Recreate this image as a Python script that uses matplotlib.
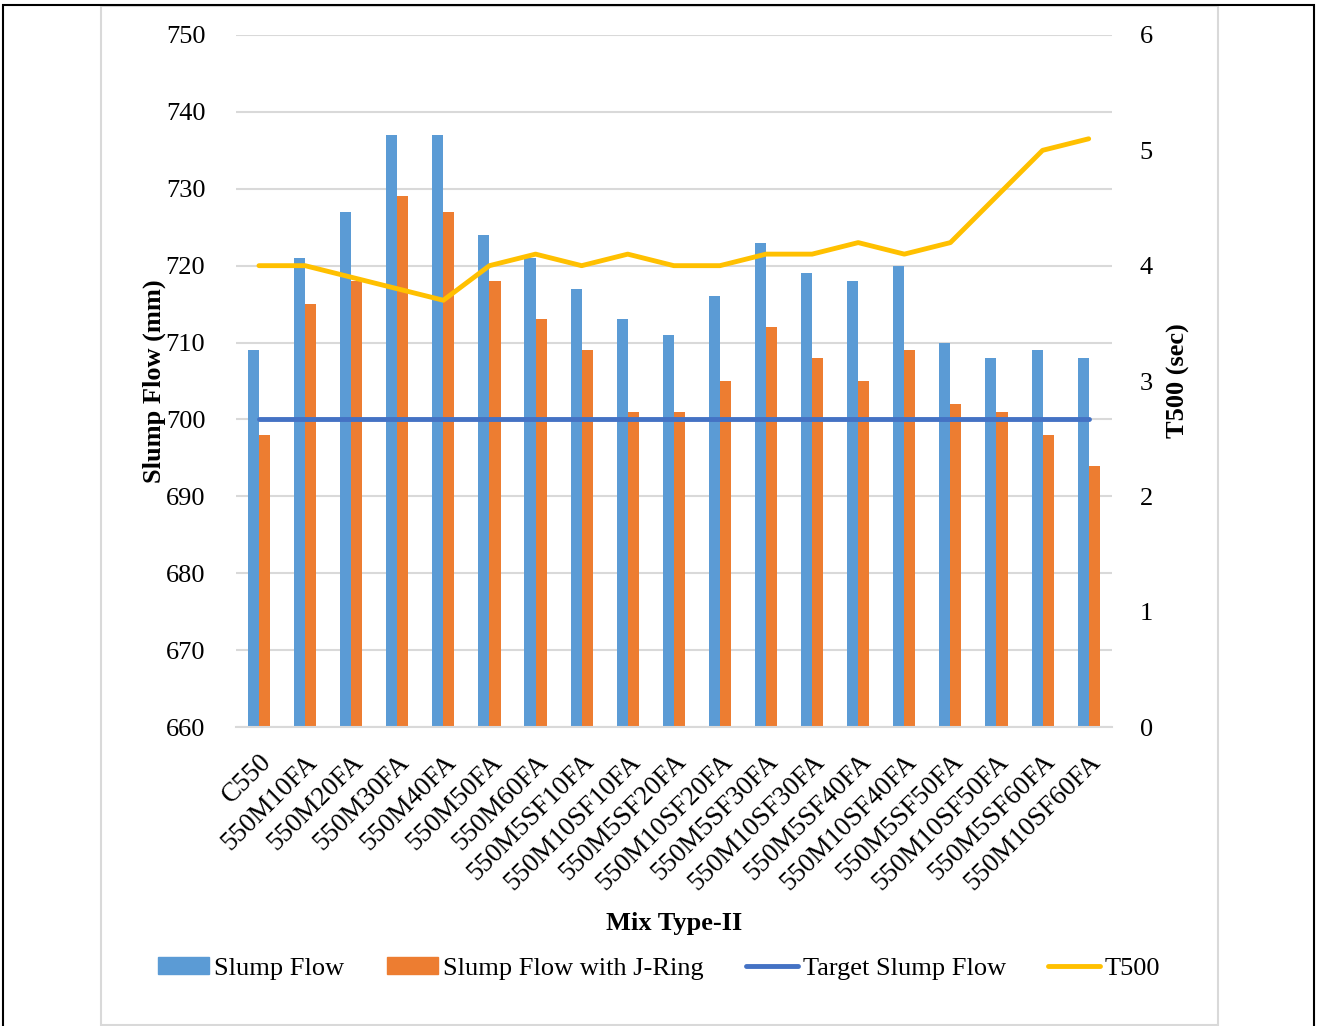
import matplotlib.pyplot as plt
import numpy as np
from matplotlib.patches import Rectangle
from matplotlib.lines import Line2D

plt.rcParams['font.family'] = ['Liberation Serif', 'DejaVu Serif']

mixes = ['C550', '550M10FA', '550M20FA', '550M30FA', '550M40FA', '550M50FA',
         '550M60FA', '550M5SF10FA', '550M10SF10FA', '550M5SF20FA', '550M10SF20FA',
         '550M5SF30FA', '550M10SF30FA', '550M5SF40FA', '550M10SF40FA',
         '550M5SF50FA', '550M10SF50FA', '550M5SF60FA', '550M10SF60FA']
slump_flow = [709, 721, 727, 737, 737, 724, 721, 717, 713, 711, 716, 723, 719, 718, 720, 710, 708, 709, 708]
slump_jring = [698, 715, 718, 729, 727, 718, 713, 709, 701, 701, 705, 712, 708, 705, 709, 702, 701, 698, 694]
target_flow = [700] * len(mixes)
t500 = [4.0, 4.0, 3.9, 3.8, 3.7, 4.0, 4.1, 4.0, 4.1, 4.0, 4.0, 4.1, 4.1, 4.2, 4.1, 4.2, 4.6, 5.0, 5.1]

blue = '#5B9BD5'
orange = '#ED7D31'
navy = '#4472C4'
gold = '#FFC000'
grid_c = '#D9D9D9'

fig = plt.figure(figsize=(13.18, 10.26), dpi=100)
ax = fig.add_axes([0.179, 0.2914, 0.6645, 0.6745])
x = np.arange(len(mixes))
w = 0.24

ax.bar(x - w / 2, slump_flow, w, color=blue, zorder=2)
ax.bar(x + w / 2, slump_jring, w, color=orange, zorder=2)
ax.plot(x, target_flow, color=navy, lw=3.5, solid_capstyle='round', zorder=3)

ax.set_ylim(660, 750)
ax.set_yticks(range(660, 751, 10))
ax.set_xlim(-0.5, len(mixes) - 0.5)
ax.set_xticks(x)
ax.set_xticklabels(mixes, rotation=45, ha='right', rotation_mode='anchor', fontsize=19.5)
ax.tick_params(axis='x', length=0, pad=16)
ax.tick_params(axis='y', length=0, labelsize=19, pad=22)
ax.yaxis.grid(True, color=grid_c, lw=1.5, zorder=0)
ax.set_axisbelow(True)
for s in ax.spines.values():
    s.set_visible(False)
ax.spines['bottom'].set_visible(True)
ax.spines['bottom'].set_color(grid_c)
ax.spines['bottom'].set_linewidth(1.5)
ax.set_ylabel('Slump Flow (mm)', fontsize=19, fontweight='bold', labelpad=0)
ax.set_xlabel('Mix Type-II', fontsize=19, fontweight='bold', labelpad=12)

ax2 = ax.twinx()
ax2.plot(x, t500, color=gold, lw=3.5, solid_capstyle='round', zorder=4)
ax2.set_ylim(0, 6)
ax2.set_yticks(range(0, 7))
ax2.tick_params(axis='y', length=0, labelsize=19, pad=20)
for s in ax2.spines.values():
    s.set_visible(False)
ax2.set_ylabel('T500 (sec)', fontsize=19, fontweight='bold', labelpad=10)

handles = [Rectangle((0, 0), 1, 1, color=blue), Rectangle((0, 0), 1, 1, color=orange),
           Line2D([], [], color=navy, lw=3.5, solid_capstyle='round'),
           Line2D([], [], color=gold, lw=3.5, solid_capstyle='round')]
labels = ['Slump Flow', 'Slump Flow with J-Ring', 'Target Slump Flow', 'T500']
fig.legend(handles, labels, loc='center', bbox_to_anchor=(0.5, 0.056), ncol=4,
           frameon=False, fontsize=19, handlelength=1.95, handleheight=0.6,
           handletextpad=0.2, columnspacing=1.6)

# inner chart frame and outer border
fig.add_artist(Rectangle((101 / 1318, 1 - 1025 / 1026), 1117 / 1318, 1019 / 1026,
                         transform=fig.transFigure, fill=False, edgecolor='#D9D9D9', lw=1.5))
fig.add_artist(Rectangle((3 / 1318, -0.01), 1311 / 1318, 1.01 - 5 / 1026,
                         transform=fig.transFigure, fill=False, edgecolor='black', lw=1.5))

fig.savefig('out.png', dpi=100)
